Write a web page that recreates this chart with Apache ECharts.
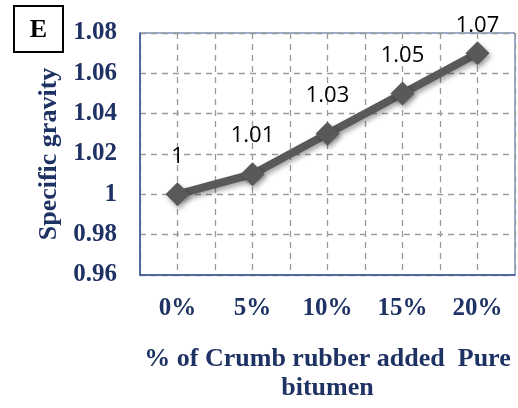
<!DOCTYPE html>
<html>
<head>
<meta charset="utf-8">
<script src="https://cdn.jsdelivr.net/npm/echarts@6/dist/echarts.min.js"></script>
<style>html,body{margin:0;padding:0;background:#fff}#c{width:518px;height:408px}</style>
</head>
<body>
<div id="c"></div>
<script>
var categories = ['0%', '5%', '10%', '15%', '20%'];
var gravity = [1, 1.01, 1.03, 1.05, 1.07];
var labels = ['1', '1.01', '1.03', '1.05', '1.07'];
var yTicks = {min: 0.96, max: 1.08, step: 0.02};

var navy = '#1F3264';
var serif = '"Liberation Serif", "Times New Roman", serif';
var chart = echarts.init(document.getElementById('c'));
var data = gravity.map(function (v, i) {
  return {value: [i, v], label: {distance: i === gravity.length - 1 ? 4 : 15}};
});
chart.setOption({
  animation: false,
  grid: {left: 140, top: 33, width: 377, height: 246, show: true, borderColor: '#3A5694', borderWidth: 1, backgroundColor: '#fff'},
  xAxis: {
    type: 'value', min: -0.5, max: 4.5, interval: 0.5,
    axisLine: {show: true, onZero: false, lineStyle: {color: '#3A5694', width: 1.5}},
    axisTick: {show: false},
    splitLine: {show: true, lineStyle: {color: '#9a9a9a', type: [6, 5], width: 1.3}},
    axisLabel: {
      margin: 21, fontFamily: serif, fontWeight: 'bold', fontSize: 25, color: navy,
      formatter: function (v) { return Number.isInteger(v) ? categories[v] : ''; }
    },
    name: '% of Crumb rubber added  Pure\nbitumen', nameLocation: 'middle', nameGap: 70,
    nameTextStyle: {fontFamily: serif, fontWeight: 'bold', fontSize: 26, color: navy, lineHeight: 29}
  },
  yAxis: {
    type: 'value', min: yTicks.min, max: yTicks.max, interval: yTicks.step,
    axisLine: {show: true, onZero: false, lineStyle: {color: '#3A5694', width: 1.5}},
    axisTick: {show: false},
    splitLine: {show: true, lineStyle: {color: '#9a9a9a', type: [6, 5], width: 1.3}},
    axisLabel: {
      margin: 23, fontFamily: serif, fontWeight: 'bold', fontSize: 25, color: navy,
      formatter: function (v) { var r = Math.round(v * 100) / 100; return r === 1 ? '1' : r.toFixed(2); }
    },
    name: 'Specific gravity', nameLocation: 'middle', nameGap: 77,
    nameTextStyle: {fontFamily: serif, fontWeight: 'bold', fontSize: 26, color: navy}
  },
  series: [{
    type: 'line', data: data,
    symbol: 'diamond', symbolSize: 24,
    lineStyle: {color: '#595959', width: 8, shadowBlur: 5, shadowOffsetX: 2, shadowOffsetY: 3, shadowColor: 'rgba(0,0,0,0.35)'},
    itemStyle: {color: '#595959', shadowBlur: 5, shadowOffsetX: 2, shadowOffsetY: 3, shadowColor: 'rgba(0,0,0,0.35)'},
    label: {
      show: true, position: 'top', fontFamily: '"Open Sans", "Liberation Sans", sans-serif', fontSize: 22, color: '#000',
      formatter: function (p) { return labels[p.dataIndex]; }
    }
  }],
  graphic: [{
    type: 'group', left: 13, top: 5,
    children: [
      {type: 'rect', shape: {x: 0, y: 0, width: 49, height: 46}, style: {fill: '#fff', stroke: '#000', lineWidth: 2}},
      {type: 'text', x: 24.5, y: 24, style: {text: 'E', fontFamily: serif, fontWeight: 'bold', fontSize: 26, fill: '#000', align: 'center', verticalAlign: 'middle'}}
    ]
  }]
});
</script>
</body>
</html>
